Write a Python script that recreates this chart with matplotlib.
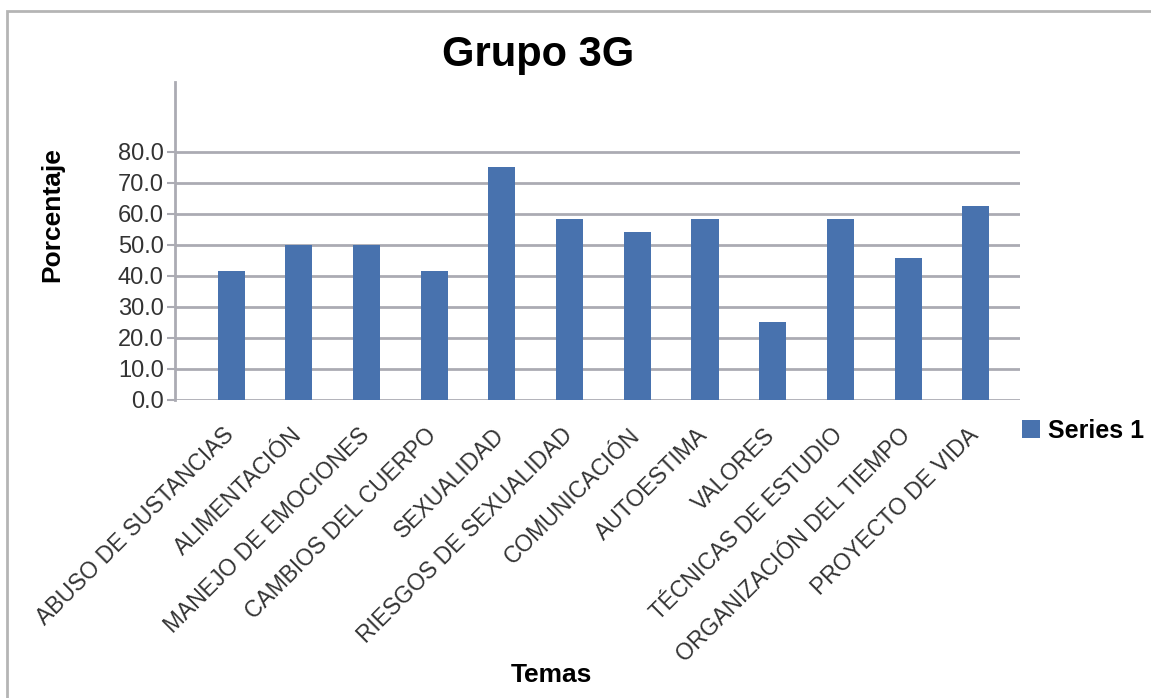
import matplotlib.pyplot as plt
from matplotlib.patches import Rectangle
from matplotlib.transforms import ScaledTranslation

plt.rcParams['font.family'] = ['Liberation Sans', 'DejaVu Sans']

temas = ['ABUSO DE SUSTANCIAS', 'ALIMENTACIÓN', 'MANEJO DE EMOCIONES',
         'CAMBIOS DEL CUERPO', 'SEXUALIDAD', 'RIESGOS DE SEXUALIDAD',
         'COMUNICACIÓN', 'AUTOESTIMA', 'VALORES', 'TÉCNICAS DE ESTUDIO',
         'ORGANIZACIÓN DEL TIEMPO', 'PROYECTO DE VIDA']
porcentaje = [41.7, 50.0, 50.0, 41.7, 75.0, 58.3, 54.2, 58.3, 25.0, 58.3, 45.8, 62.5]
yticks = [0, 10, 20, 30, 40, 50, 60, 70, 80]

bar_color = '#4872AE'
grid_color = '#ababb3'

fig = plt.figure(figsize=(11.51, 6.98), dpi=100)
ax = fig.add_axes([0.152, 0.427, 0.734, 0.4555])

x = list(range(len(temas)))
ax.bar(x, porcentaje, width=0.4, color=bar_color, label='Series 1', zorder=3)

ax.set_ylim(0, 102.5)
ax.set_xlim(-0.83, 11.65)
ax.set_yticks(yticks)
ax.set_yticklabels(['%.1f' % v for v in yticks], fontsize=17, color='#333333')
for v in yticks:
    ax.axhline(v, color=grid_color, lw=2, zorder=1)

ax.set_xticks(x)
ax.set_xticklabels(temas, rotation=45, ha='right', va='top',
                   rotation_mode='anchor', fontsize=16.5, color='#333333')
ax.tick_params(axis='x', length=0, pad=17)
ax.tick_params(axis='y', length=6, width=1.5, color=grid_color, pad=2)
shift = ScaledTranslation(-9 / 100, 0, fig.dpi_scale_trans)
for lab in ax.get_xticklabels():
    lab.set_transform(lab.get_transform() + shift)

for s in ['top', 'right', 'bottom']:
    ax.spines[s].set_visible(False)
ax.spines['left'].set_color(grid_color)
ax.spines['left'].set_linewidth(2)

fig.text(538 / 1151, 1 - 55 / 698, 'Grupo 3G', fontsize=30, fontweight='bold',
         ha='center', va='center')
fig.text(52 / 1151, 1 - 215 / 698, 'Porcentaje', fontsize=19, fontweight='bold',
         rotation=90, ha='center', va='center')
fig.text(551 / 1151, 1 - 675 / 698, 'Temas', fontsize=19, fontweight='bold',
         ha='center', va='center')

leg = ax.legend(loc='center left', bbox_to_anchor=(1004 / 1151, 1 - 431 / 698),
                bbox_transform=fig.transFigure, frameon=False,
                prop={'size': 18, 'weight': 'bold'}, handlelength=0.75,
                handleheight=0.75, handletextpad=0.3, borderpad=0.2)

fig.patches.append(Rectangle((7 / 1151, -0.1), 1.2, 1.1 - 11 / 698,
                             transform=fig.transFigure, fill=False,
                             edgecolor='#b5b5b5', lw=2))

fig.savefig('out.png')
